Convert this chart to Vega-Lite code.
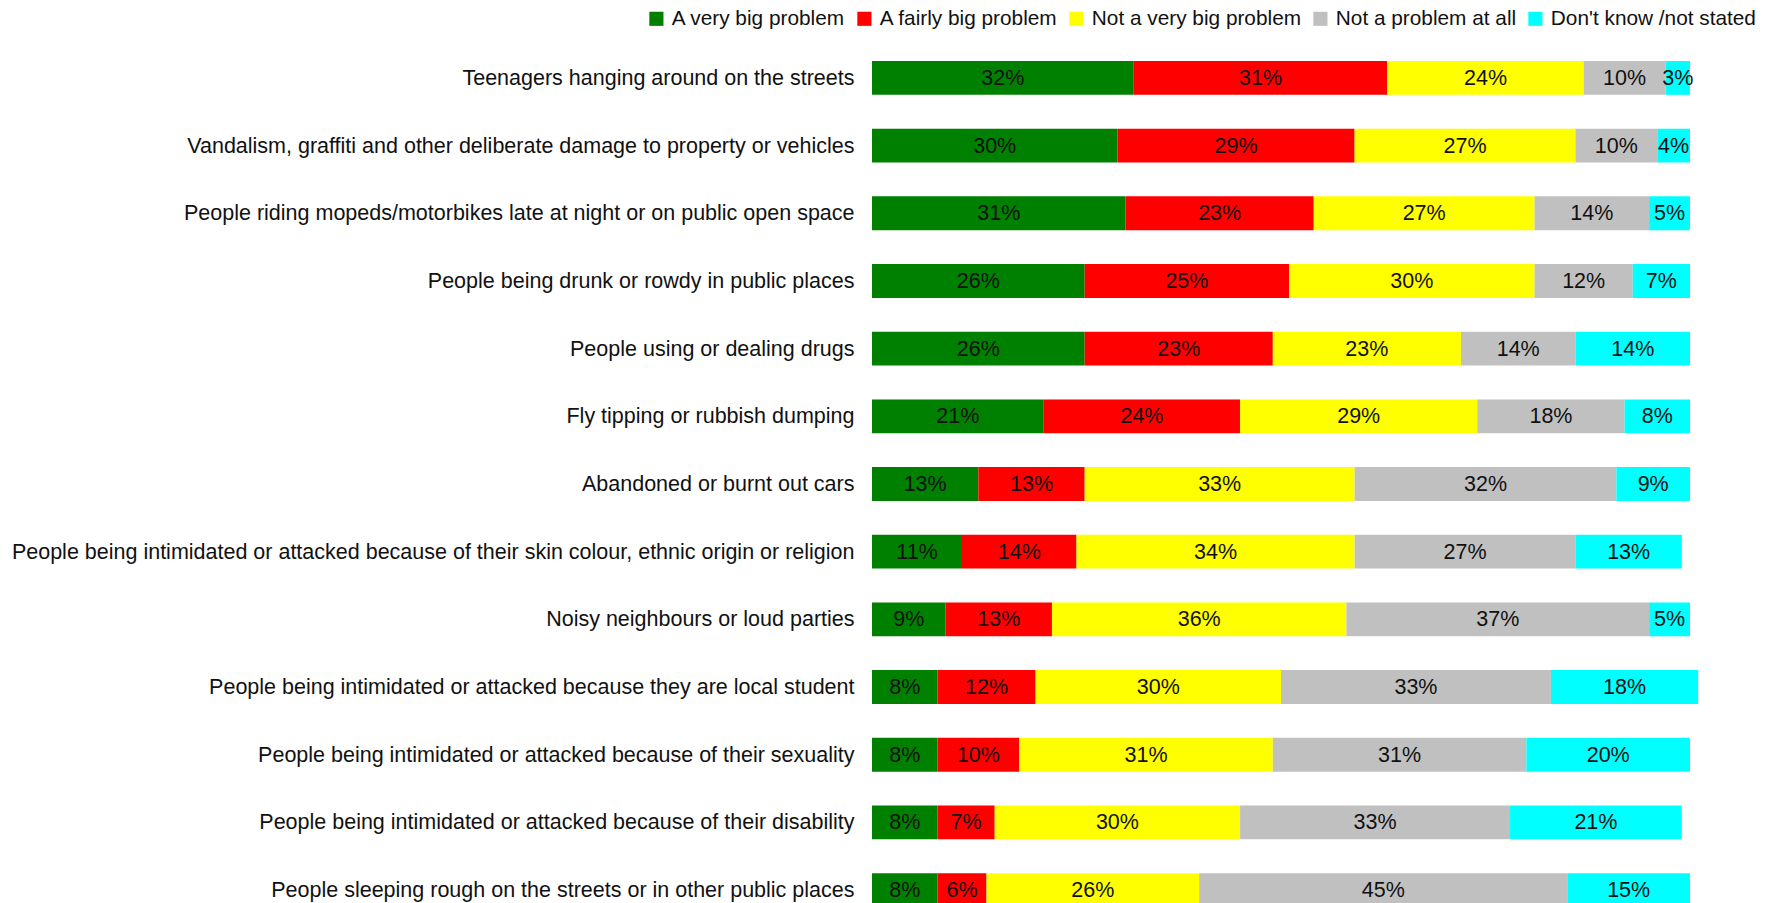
{
  "$schema": "https://vega.github.io/schema/vega-lite/v6.json",
  "autosize": "none",
  "padding": {"left": 872, "top": 61, "right": 83, "bottom": 0},
  "width": 818,
  "height": 842,
  "background": "white",
  "config": {
    "view": {"stroke": null},
    "font": "Liberation Sans",
    "text": {"font": "Liberation Sans"}
  },
  "data": {
    "values": [
      {"item": "Teenagers hanging around on the streets", "response": "A very big problem", "k": 1, "pct": 0.32},
      {"item": "Teenagers hanging around on the streets", "response": "A fairly big problem", "k": 2, "pct": 0.31},
      {"item": "Teenagers hanging around on the streets", "response": "Not a very big problem", "k": 3, "pct": 0.24},
      {"item": "Teenagers hanging around on the streets", "response": "Not a problem at all", "k": 4, "pct": 0.10},
      {"item": "Teenagers hanging around on the streets", "response": "Don't know /not stated", "k": 5, "pct": 0.03},
      {"item": "Vandalism, graffiti and other deliberate damage to property or vehicles", "response": "A very big problem", "k": 1, "pct": 0.30},
      {"item": "Vandalism, graffiti and other deliberate damage to property or vehicles", "response": "A fairly big problem", "k": 2, "pct": 0.29},
      {"item": "Vandalism, graffiti and other deliberate damage to property or vehicles", "response": "Not a very big problem", "k": 3, "pct": 0.27},
      {"item": "Vandalism, graffiti and other deliberate damage to property or vehicles", "response": "Not a problem at all", "k": 4, "pct": 0.10},
      {"item": "Vandalism, graffiti and other deliberate damage to property or vehicles", "response": "Don't know /not stated", "k": 5, "pct": 0.04},
      {"item": "People riding mopeds/motorbikes late at night or on public open space", "response": "A very big problem", "k": 1, "pct": 0.31},
      {"item": "People riding mopeds/motorbikes late at night or on public open space", "response": "A fairly big problem", "k": 2, "pct": 0.23},
      {"item": "People riding mopeds/motorbikes late at night or on public open space", "response": "Not a very big problem", "k": 3, "pct": 0.27},
      {"item": "People riding mopeds/motorbikes late at night or on public open space", "response": "Not a problem at all", "k": 4, "pct": 0.14},
      {"item": "People riding mopeds/motorbikes late at night or on public open space", "response": "Don't know /not stated", "k": 5, "pct": 0.05},
      {"item": "People being drunk or rowdy in public places", "response": "A very big problem", "k": 1, "pct": 0.26},
      {"item": "People being drunk or rowdy in public places", "response": "A fairly big problem", "k": 2, "pct": 0.25},
      {"item": "People being drunk or rowdy in public places", "response": "Not a very big problem", "k": 3, "pct": 0.30},
      {"item": "People being drunk or rowdy in public places", "response": "Not a problem at all", "k": 4, "pct": 0.12},
      {"item": "People being drunk or rowdy in public places", "response": "Don't know /not stated", "k": 5, "pct": 0.07},
      {"item": "People using or dealing drugs", "response": "A very big problem", "k": 1, "pct": 0.26},
      {"item": "People using or dealing drugs", "response": "A fairly big problem", "k": 2, "pct": 0.23},
      {"item": "People using or dealing drugs", "response": "Not a very big problem", "k": 3, "pct": 0.23},
      {"item": "People using or dealing drugs", "response": "Not a problem at all", "k": 4, "pct": 0.14},
      {"item": "People using or dealing drugs", "response": "Don't know /not stated", "k": 5, "pct": 0.14},
      {"item": "Fly tipping or rubbish dumping", "response": "A very big problem", "k": 1, "pct": 0.21},
      {"item": "Fly tipping or rubbish dumping", "response": "A fairly big problem", "k": 2, "pct": 0.24},
      {"item": "Fly tipping or rubbish dumping", "response": "Not a very big problem", "k": 3, "pct": 0.29},
      {"item": "Fly tipping or rubbish dumping", "response": "Not a problem at all", "k": 4, "pct": 0.18},
      {"item": "Fly tipping or rubbish dumping", "response": "Don't know /not stated", "k": 5, "pct": 0.08},
      {"item": "Abandoned or burnt out cars", "response": "A very big problem", "k": 1, "pct": 0.13},
      {"item": "Abandoned or burnt out cars", "response": "A fairly big problem", "k": 2, "pct": 0.13},
      {"item": "Abandoned or burnt out cars", "response": "Not a very big problem", "k": 3, "pct": 0.33},
      {"item": "Abandoned or burnt out cars", "response": "Not a problem at all", "k": 4, "pct": 0.32},
      {"item": "Abandoned or burnt out cars", "response": "Don't know /not stated", "k": 5, "pct": 0.09},
      {"item": "People being intimidated or attacked because of their skin colour, ethnic origin or religion", "response": "A very big problem", "k": 1, "pct": 0.11},
      {"item": "People being intimidated or attacked because of their skin colour, ethnic origin or religion", "response": "A fairly big problem", "k": 2, "pct": 0.14},
      {"item": "People being intimidated or attacked because of their skin colour, ethnic origin or religion", "response": "Not a very big problem", "k": 3, "pct": 0.34},
      {"item": "People being intimidated or attacked because of their skin colour, ethnic origin or religion", "response": "Not a problem at all", "k": 4, "pct": 0.27},
      {"item": "People being intimidated or attacked because of their skin colour, ethnic origin or religion", "response": "Don't know /not stated", "k": 5, "pct": 0.13},
      {"item": "Noisy neighbours or loud parties", "response": "A very big problem", "k": 1, "pct": 0.09},
      {"item": "Noisy neighbours or loud parties", "response": "A fairly big problem", "k": 2, "pct": 0.13},
      {"item": "Noisy neighbours or loud parties", "response": "Not a very big problem", "k": 3, "pct": 0.36},
      {"item": "Noisy neighbours or loud parties", "response": "Not a problem at all", "k": 4, "pct": 0.37},
      {"item": "Noisy neighbours or loud parties", "response": "Don't know /not stated", "k": 5, "pct": 0.05},
      {"item": "People being intimidated or attacked because they are local student", "response": "A very big problem", "k": 1, "pct": 0.08},
      {"item": "People being intimidated or attacked because they are local student", "response": "A fairly big problem", "k": 2, "pct": 0.12},
      {"item": "People being intimidated or attacked because they are local student", "response": "Not a very big problem", "k": 3, "pct": 0.30},
      {"item": "People being intimidated or attacked because they are local student", "response": "Not a problem at all", "k": 4, "pct": 0.33},
      {"item": "People being intimidated or attacked because they are local student", "response": "Don't know /not stated", "k": 5, "pct": 0.18},
      {"item": "People being intimidated or attacked because of their sexuality", "response": "A very big problem", "k": 1, "pct": 0.08},
      {"item": "People being intimidated or attacked because of their sexuality", "response": "A fairly big problem", "k": 2, "pct": 0.10},
      {"item": "People being intimidated or attacked because of their sexuality", "response": "Not a very big problem", "k": 3, "pct": 0.31},
      {"item": "People being intimidated or attacked because of their sexuality", "response": "Not a problem at all", "k": 4, "pct": 0.31},
      {"item": "People being intimidated or attacked because of their sexuality", "response": "Don't know /not stated", "k": 5, "pct": 0.20},
      {"item": "People being intimidated or attacked because of their disability", "response": "A very big problem", "k": 1, "pct": 0.08},
      {"item": "People being intimidated or attacked because of their disability", "response": "A fairly big problem", "k": 2, "pct": 0.07},
      {"item": "People being intimidated or attacked because of their disability", "response": "Not a very big problem", "k": 3, "pct": 0.30},
      {"item": "People being intimidated or attacked because of their disability", "response": "Not a problem at all", "k": 4, "pct": 0.33},
      {"item": "People being intimidated or attacked because of their disability", "response": "Don't know /not stated", "k": 5, "pct": 0.21},
      {"item": "People sleeping rough on the streets or in other public places", "response": "A very big problem", "k": 1, "pct": 0.08},
      {"item": "People sleeping rough on the streets or in other public places", "response": "A fairly big problem", "k": 2, "pct": 0.06},
      {"item": "People sleeping rough on the streets or in other public places", "response": "Not a very big problem", "k": 3, "pct": 0.26},
      {"item": "People sleeping rough on the streets or in other public places", "response": "Not a problem at all", "k": 4, "pct": 0.45},
      {"item": "People sleeping rough on the streets or in other public places", "response": "Don't know /not stated", "k": 5, "pct": 0.15}
    ]
  },
  "transform": [
    {"stack": "pct", "groupby": ["item"], "sort": [{"field": "k", "order": "ascending"}], "as": ["x0", "x1"]},
    {"calculate": "(datum.x0 + datum.x1) / 2", "as": "mid"}
  ],
  "encoding": {
    "y": {
      "field": "item",
      "type": "nominal",
      "sort": null,
      "scale": {"paddingInner": 0.5, "paddingOuter": 0, "range": [0, 846]},
      "axis": {
        "title": null,
        "ticks": false,
        "domain": false,
        "grid": false,
        "labelFontSize": 21.5,
        "labelFont": "Liberation Sans",
        "labelColor": "#111111",
        "labelPadding": 18,
        "labelLimit": 1000,
        "labelBaseline": "middle",
        "labelOffset": 1
      }
    }
  },
  "layer": [
    {
      "mark": {"type": "bar"},
      "encoding": {
        "x": {"field": "x0", "type": "quantitative", "scale": {"domain": [0, 1], "nice": false, "zero": true}, "axis": null},
        "x2": {"field": "x1"},
        "color": {
          "field": "response",
          "type": "nominal",
          "sort": null,
          "scale": {
            "domain": ["A very big problem", "A fairly big problem", "Not a very big problem", "Not a problem at all", "Don't know /not stated"],
            "range": ["#008000", "#FF0000", "#FFFF00", "#C0C0C0", "#00FFFF"]
          },
          "legend": {
            "title": null,
            "orient": "none",
            "direction": "horizontal",
            "legendX": -226,
            "legendY": -53,
            "symbolType": "square",
            "symbolSize": 200,
            "symbolStrokeWidth": 0,
            "symbolOpacity": 1,
            "labelFontSize": 20.8,
            "labelFont": "Liberation Sans",
            "labelColor": "#111111",
            "labelOffset": 5,
            "columnPadding": 8,
            "labelLimit": 400
          }
        }
      }
    },
    {
      "mark": {"type": "text", "fontSize": 21.5, "font": "Liberation Sans", "color": "#111111", "baseline": "middle", "align": "center", "dy": 1},
      "encoding": {
        "x": {"field": "mid", "type": "quantitative"},
        "text": {"field": "pct", "type": "quantitative", "format": ".0%"}
      }
    }
  ]
}
